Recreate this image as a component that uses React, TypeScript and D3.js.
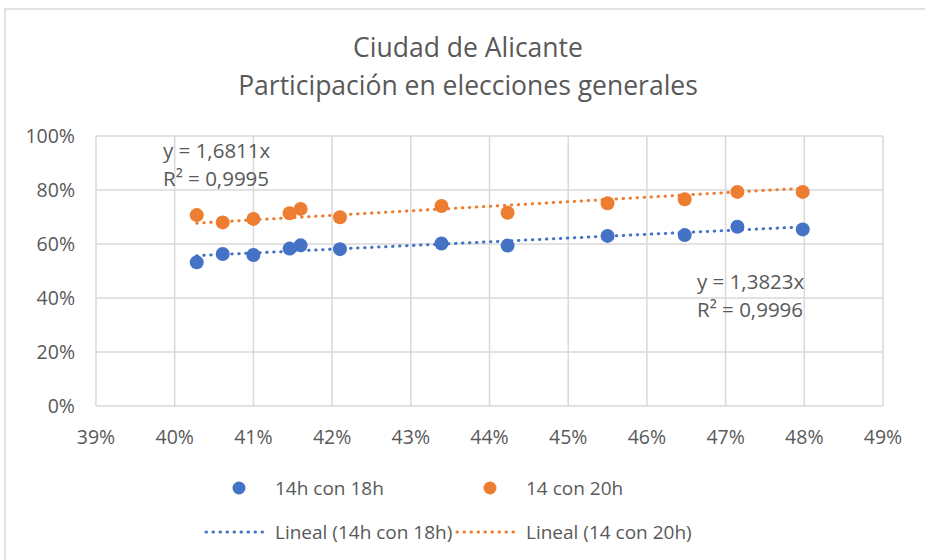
import React, { useEffect, useRef } from 'react';
import * as d3 from 'd3';

// turnout at 14h (x) against turnout at 18h / 20h (y), in %
const turnout14 = [40.28, 40.61, 41.0, 41.46, 41.6, 42.1, 43.39, 44.23, 45.5, 46.48, 47.15, 47.98];
const turnout18 = [53.2, 56.3, 55.9, 58.3, 59.5, 58.1, 60.2, 59.4, 63.0, 63.3, 66.4, 65.4];
const turnout20 = [70.7, 68.0, 69.3, 71.4, 73.0, 69.9, 74.1, 71.6, 75.1, 76.6, 79.3, 79.3];

const seriesNames = ['14h con 18h', '14 con 20h'];
const trendNames = ['Lineal (14h con 18h)', 'Lineal (14 con 20h)'];
const slopes = [1.3823, 1.6811];
const equations = ['y = 1,3823x', 'y = 1,6811x'];
const rSquared = ['R² = 0,9996', 'R² = 0,9995'];
const colors = ['#4472C4', '#ED7D31'];

const xTicks = [39, 40, 41, 42, 43, 44, 45, 46, 47, 48, 49];
const yTicks = [0, 20, 40, 60, 80, 100];

const W = 925;
const H = 560;
const FONT = '"Open Sans", sans-serif';
const TEXT = '#595959';
const GRID = '#D9D9D9';

const App = () => {
  const ref = useRef<SVGSVGElement>(null);

  useEffect(() => {
    const svg = d3.select(ref.current);
    svg.selectAll('*').remove();

    const x = d3.scaleLinear().domain([39, 49]).range([96, 883]);
    const y = d3.scaleLinear().domain([0, 100]).range([406, 136]);

    svg.append('rect')
      .attr('x', 5).attr('y', 9).attr('width', W + 10).attr('height', H)
      .attr('fill', '#fff').attr('stroke', GRID).attr('stroke-width', 1.5);

    // title
    const title = svg.append('text')
      .attr('text-anchor', 'middle')
      .attr('font-family', FONT).attr('font-size', 26.5).attr('fill', TEXT);
    title.append('tspan').attr('x', 468).attr('y', 57).text('Ciudad de Alicante');
    title.append('tspan').attr('x', 468).attr('y', 95).text('Participación en elecciones generales');

    // grid
    svg.append('g').selectAll('line').data(yTicks).join('line')
      .attr('x1', x(39)).attr('x2', x(49))
      .attr('y1', d => y(d)).attr('y2', d => y(d))
      .attr('stroke', GRID).attr('stroke-width', 1.5);
    svg.append('g').selectAll('line').data(xTicks).join('line')
      .attr('x1', d => x(d)).attr('x2', d => x(d))
      .attr('y1', y(0)).attr('y2', y(100))
      .attr('stroke', GRID).attr('stroke-width', 1.5);

    // axes labels
    svg.append('g').selectAll('text').data(yTicks).join('text')
      .attr('x', 75).attr('y', d => y(d) + 7)
      .attr('text-anchor', 'end')
      .attr('font-family', FONT).attr('font-size', 19.5).attr('fill', TEXT)
      .text(d => d + '%');
    svg.append('g').selectAll('text').data(xTicks).join('text')
      .attr('x', d => x(d)).attr('y', 444)
      .attr('text-anchor', 'middle')
      .attr('font-family', FONT).attr('font-size', 19.5).attr('fill', TEXT)
      .text(d => d + '%');

    const series = [turnout18, turnout20];
    const xMin = d3.min(turnout14) as number;
    const xMax = d3.max(turnout14) as number;

    // trend lines through the origin
    series.forEach((_, i) => {
      svg.append('line')
        .attr('x1', x(xMin)).attr('y1', y(xMin * slopes[i]))
        .attr('x2', x(xMax)).attr('y2', y(xMax * slopes[i]))
        .attr('stroke', colors[i]).attr('stroke-width', 3)
        .attr('stroke-linecap', 'round').attr('stroke-dasharray', '0.5 6.5');
    });

    series.forEach((vals, i) => {
      svg.append('g').selectAll('circle').data(vals).join('circle')
        .attr('cx', (_, j) => x(turnout14[j]))
        .attr('cy', d => y(d))
        .attr('r', 7)
        .attr('fill', colors[i]);
    });

    // equations
    const eqPos = [[697, 289], [163, 158]];
    eqPos.forEach(([ex, ey], i) => {
      const t = svg.append('text')
        .attr('font-family', FONT).attr('font-size', 20.5).attr('fill', TEXT);
      t.append('tspan').attr('x', ex).attr('y', ey).text(equations[i]);
      t.append('tspan').attr('x', ex).attr('y', ey + 28).text(rSquared[i]);
    });

    // legend
    const lx = [239, 490];
    series.forEach((_, i) => {
      svg.append('circle').attr('cx', lx[i]).attr('cy', 488).attr('r', 6.5).attr('fill', colors[i]);
      svg.append('text')
        .attr('x', lx[i] + 36).attr('y', 495)
        .attr('font-family', FONT).attr('font-size', 19).attr('fill', TEXT)
        .text(seriesNames[i]);
      svg.append('line')
        .attr('x1', lx[i] - 33).attr('x2', lx[i] + 25)
        .attr('y1', 532).attr('y2', 532)
        .attr('stroke', colors[i]).attr('stroke-width', 3)
        .attr('stroke-linecap', 'round').attr('stroke-dasharray', '0.5 6.5');
      svg.append('text')
        .attr('x', lx[i] + 36).attr('y', 539)
        .attr('font-family', FONT).attr('font-size', 19).attr('fill', TEXT)
        .text(trendNames[i]);
    });
  }, []);

  return (
    <svg ref={ref} width={W} height={H}
      style={{ position: 'absolute', left: 0, top: 0, background: '#fff' }} />
  );
};

export default App;
